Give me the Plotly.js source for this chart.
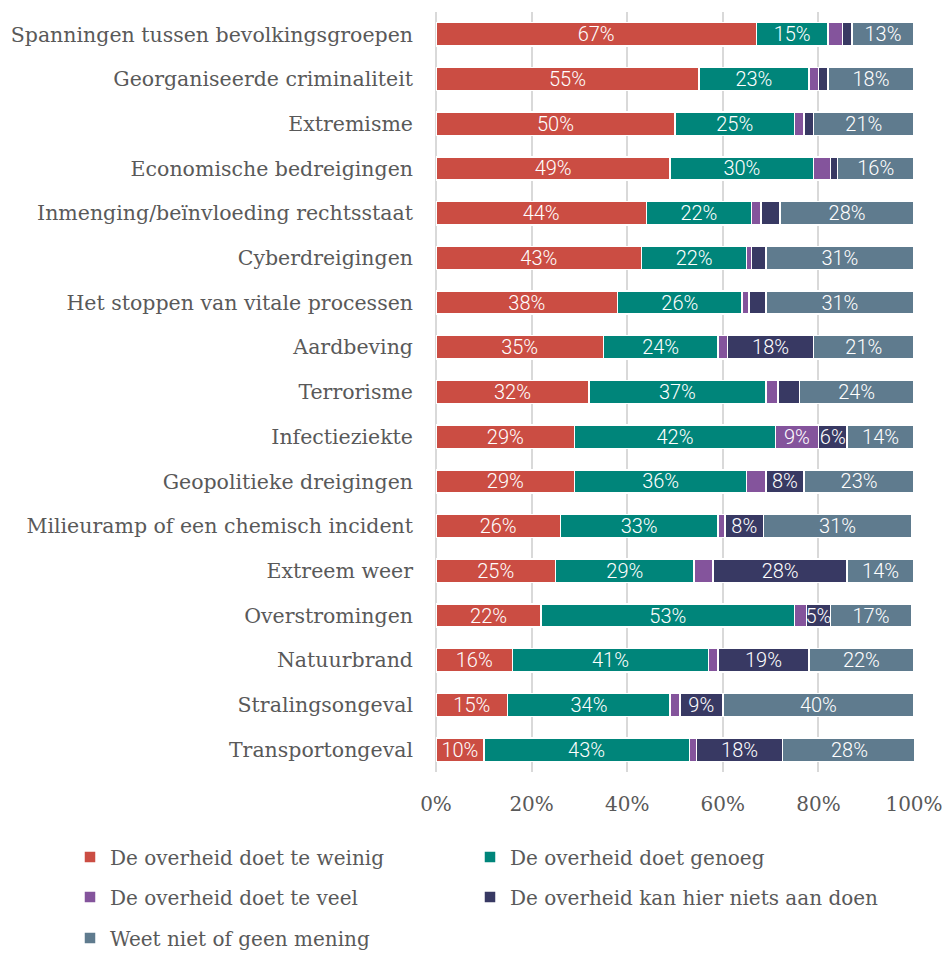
<!DOCTYPE html>
<html>
<head>
<meta charset="utf-8">
<script src="https://cdn.plot.ly/plotly-3.0.1.min.js"></script>
<style>html,body{margin:0;padding:0;background:#fff;}#chart{width:950px;height:954px;}</style>
</head>
<body>
<div id="chart"></div>
<script>
const categories = [
  "Spanningen tussen bevolkingsgroepen",
  "Georganiseerde criminaliteit",
  "Extremisme",
  "Economische bedreigingen",
  "Inmenging/beïnvloeding rechtsstaat",
  "Cyberdreigingen",
  "Het stoppen van vitale processen",
  "Aardbeving",
  "Terrorisme",
  "Infectieziekte",
  "Geopolitieke dreigingen",
  "Milieuramp of een chemisch incident",
  "Extreem weer",
  "Overstromingen",
  "Natuurbrand",
  "Stralingsongeval",
  "Transportongeval"
];
const teWeinig   = [67, 55, 50, 49, 44, 43, 38, 35, 32, 29, 29, 26, 25, 22, 16, 15, 10];
const genoeg     = [15, 23, 25, 30, 22, 22, 26, 24, 37, 42, 36, 33, 29, 53, 41, 34, 43];
const teVeel     = [3, 2, 2, 3.5, 2, 1, 1.5, 2, 2.5, 9, 4, 1.5, 4, 2.5, 2, 2, 1.5];
const nietsAan   = [2, 2, 2, 1.5, 4, 3, 3.5, 18, 4.5, 6, 8, 8, 28, 5, 19, 9, 18];
const geenMening = [13, 18, 21, 16, 28, 31, 31, 21, 24, 14, 23, 31, 14, 17, 22, 40, 28];
const seriesNames = [
  "De overheid doet te weinig",
  "De overheid doet genoeg",
  "De overheid doet te veel",
  "De overheid kan hier niets aan doen",
  "Weet niet of geen mening"
];
const tickVals = [0, 20, 40, 60, 80, 100];
const tickText = ["0%", "20%", "40%", "60%", "80%", "100%"];
const colors = ["#CB4D43", "#00857A", "#84549C", "#383963", "#5F7B8E"];
const legendIds = ["legend", "legend2", "legend3", "legend4", "legend5"];

const allSeries = [teWeinig, genoeg, teVeel, nietsAan, geenMening];

const traces = allSeries.map((vals, i) => ({
  type: 'bar',
  orientation: 'h',
  name: seriesNames[i],
  legend: legendIds[i],
  y: categories,
  x: vals,
  text: vals.map(v => v >= 5 ? Math.round(v) + '%' : ''),
  textposition: 'inside',
  insidetextanchor: 'middle',
  constraintext: 'none',
  textfont: {family: 'Roboto, sans-serif', size: 20, weight: 300, color: '#ffffff'},
  marker: {color: colors[i], line: {color: '#ffffff', width: 1.5}},
  hoverinfo: 'x+name'
}));

function legendAt(xPix, yPix) {
  return {
    orientation: 'h',
    xref: 'container',
    yref: 'container',
    x: xPix / 950,
    xanchor: 'left',
    y: 1 - yPix / 954,
    yanchor: 'middle',
    bgcolor: 'rgba(0,0,0,0)',
    font: {family: '"DejaVu Serif", serif', size: 20, color: '#595959'},
    itemwidth: 30
  };
}

const layout = {
  width: 950,
  height: 954,
  barmode: 'stack',
  bargap: 0.48,
  margin: {l: 436, r: 36, t: 12, b: 182},
  paper_bgcolor: '#ffffff',
  plot_bgcolor: '#ffffff',
  font: {family: '"DejaVu Serif", serif', color: '#595959'},
  xaxis: {
    range: [0, 100],
    tickvals: tickVals,
    ticktext: tickText,
    showgrid: true,
    gridcolor: '#d9d9d9',
    gridwidth: 2,
    zeroline: true,
    zerolinecolor: '#d9d9d9',
    zerolinewidth: 2,
    showline: false,
    ticks: '',
    ticklabelstandoff: 18,
    tickfont: {family: '"DejaVu Serif", serif', size: 20, color: '#595959'},
    fixedrange: true
  },
  yaxis: {
    autorange: 'reversed',
    showgrid: false,
    zeroline: false,
    showline: false,
    ticks: '',
    ticklabelstandoff: 22,
    tickfont: {family: '"DejaVu Serif", serif', size: 20.5, color: '#595959'},
    fixedrange: true
  },
  showlegend: true,
  legend:  legendAt(70, 857),
  legend2: legendAt(470, 857),
  legend3: legendAt(70, 897),
  legend4: legendAt(470, 897),
  legend5: legendAt(70, 938)
};

Plotly.newPlot('chart', traces, layout, {displayModeBar: false, staticPlot: true});
</script>
</body>
</html>
